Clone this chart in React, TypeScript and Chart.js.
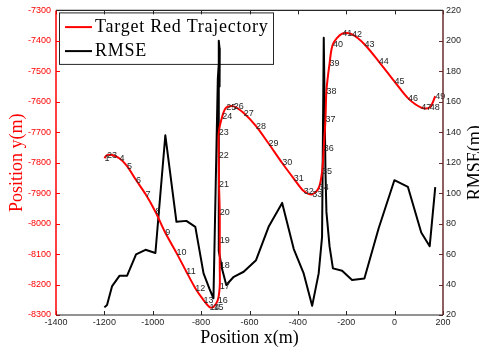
import { useEffect, useRef } from 'react';
import { Chart, registerables } from 'chart.js';

Chart.register(...registerables);

// Target trajectory: waypoint positions (m), waypoint n is labelled n
const trajX = [
  -1200, -1189, -1168, -1137, -1106, -1069, -1030, -989, -948, -902,
  -861, -824, -790, -765, -749, -731, -723, -723, -723, -723,
  -726, -727, -727, -713, -696, -665, -624, -573, -521, -465,
  -417, -376, -341, -314, -300, -293, -286, -282, -269, -255,
  -217, -176, -125, -66, -1, 55, 110, 145, 168,
];
const trajY = [
  -7785, -7775, -7775, -7786, -7811, -7857, -7903, -7961, -8030, -8096,
  -8158, -8212, -8251, -8274, -8274, -8251, -8205, -8139, -8056, -7965,
  -7870, -7775, -7702, -7649, -7619, -7615, -7637, -7680, -7737, -7801,
  -7852, -7893, -7904, -7883, -7830, -7753, -7658, -7565, -7475, -7411,
  -7376, -7379, -7411, -7467, -7533, -7588, -7619, -7619, -7582,
];
// RMSE (m) at each waypoint
const rmse = [
  25, 26.6, 39, 45.8, 45.8, 59.8, 62.8, 60.7, 138, 81.2,
  81.8, 77.9, 47.3, 37, 31, 175, 195, 185, 170, 175,
  195, 200, 62, 50, 39.7, 45.1, 48.4, 56, 77.9, 93.6,
  63.3, 47.3, 26, 47.3, 71.3, 202, 115, 87.7, 65, 50.6,
  49, 43, 44, 77, 108.5, 104.1, 74.2, 65.2, 104,
];
const pointLabels = trajX.map((_, i) => String(i + 1));

const xRange = { min: -1400, max: 200, step: 200 };
const yRange = { min: -8300, max: -7300, step: 100 };
const rmseRange = { min: 20, max: 220, step: 20 };

const legendItems = [
  { text: 'Target Red Trajectory', color: '#ff0000' },
  { text: 'RMSE', color: '#000000' },
];

const SANS = '"Liberation Sans", Arial, Helvetica, sans-serif';
const SERIF = '"Liberation Serif", "Times New Roman", serif';
const DARK = '#262626';
const RIGHT_AXIS = '#6b2b2b';

const framePlugin = {
  id: 'matlabFrame',
  beforeDatasetsDraw(chart: any) {
    // legend box sits under the data lines
    const { ctx, chartArea } = chart;
    const lx = chartArea.left + 3.5;
    const ly = chartArea.top + 2.5;
    ctx.save();
    ctx.fillStyle = '#ffffff';
    ctx.fillRect(lx, ly, 214, 51.5);
    ctx.lineWidth = 1;
    ctx.strokeStyle = DARK;
    ctx.strokeRect(lx, ly, 214, 51.5);
    ctx.font = `18px ${SERIF}`;
    ctx.textAlign = 'left';
    ctx.textBaseline = 'alphabetic';
    legendItems.forEach((item, i) => {
      const cy = ly + 14.2 + i * 24;
      ctx.strokeStyle = item.color;
      ctx.lineWidth = 2;
      ctx.beginPath();
      ctx.moveTo(lx + 5.5, cy);
      ctx.lineTo(lx + 32.5, cy);
      ctx.stroke();
      ctx.fillStyle = '#000000';
      (ctx as any).letterSpacing = '0.75px';
      ctx.fillText(item.text, lx + 35.5, cy + 5);
      (ctx as any).letterSpacing = '0px';
    });
    ctx.restore();
  },
  afterDatasetsDraw(chart: any) {
    const { ctx } = chart;
    const xs = chart.scales.x;
    const ys = chart.scales.y;
    ctx.save();
    ctx.font = `9px ${SANS}`;
    ctx.fillStyle = DARK;
    ctx.textAlign = 'left';
    ctx.textBaseline = 'middle';
    for (let i = 0; i < trajX.length; i++) {
      const px = xs.getPixelForValue(trajX[i]);
      const py = ys.getPixelForValue(trajY[i]);
      ctx.fillText(pointLabels[i], px, py);
    }
    ctx.restore();
  },
  afterDraw(chart: any) {
    const { ctx, chartArea } = chart;
    const { left, right, top, bottom } = chartArea;
    const xs = chart.scales.x;
    const ys = chart.scales.y;
    const y1 = chart.scales.y1;
    const tick = 4;
    ctx.save();

    // inward ticks
    ctx.lineWidth = 1;
    ctx.strokeStyle = DARK;
    ctx.beginPath();
    for (let v = xRange.min; v <= xRange.max; v += xRange.step) {
      const px = Math.round(xs.getPixelForValue(v)) + 0.5;
      ctx.moveTo(px, bottom);
      ctx.lineTo(px, bottom - tick);
      ctx.moveTo(px, top);
      ctx.lineTo(px, top + tick);
    }
    ctx.stroke();
    ctx.strokeStyle = '#ff0000';
    ctx.beginPath();
    for (let v = yRange.min; v <= yRange.max; v += yRange.step) {
      const py = Math.round(ys.getPixelForValue(v)) + 0.5;
      ctx.moveTo(left, py);
      ctx.lineTo(left + tick, py);
    }
    ctx.stroke();
    ctx.strokeStyle = RIGHT_AXIS;
    ctx.beginPath();
    for (let v = rmseRange.min; v <= rmseRange.max; v += rmseRange.step) {
      const py = Math.round(y1.getPixelForValue(v)) + 0.5;
      ctx.moveTo(right, py);
      ctx.lineTo(right - tick, py);
    }
    ctx.stroke();

    // box
    ctx.lineWidth = 1.2;
    ctx.strokeStyle = DARK;
    ctx.beginPath();
    ctx.moveTo(left, top);
    ctx.lineTo(right, top);
    ctx.moveTo(left, bottom);
    ctx.lineTo(right, bottom);
    ctx.stroke();
    ctx.lineWidth = 1.5;
    ctx.strokeStyle = '#ff0000';
    ctx.beginPath();
    ctx.moveTo(left, top);
    ctx.lineTo(left, bottom);
    ctx.stroke();
    ctx.strokeStyle = RIGHT_AXIS;
    ctx.beginPath();
    ctx.moveTo(right, top);
    ctx.lineTo(right, bottom);
    ctx.stroke();

    // axis titles
    const midY = (top + bottom) / 2;
    ctx.font = `18px ${SERIF}`;
    ctx.textBaseline = 'alphabetic';
    ctx.textAlign = 'center';
    ctx.fillStyle = '#000000';
    ctx.fillText('Position x(m)', (left + right) / 2, 343);
    ctx.save();
    ctx.translate(22, midY);
    ctx.rotate(-Math.PI / 2);
    ctx.fillStyle = '#ff0000';
    ctx.fillText('Position y(m)', 0, 0);
    ctx.restore();
    ctx.save();
    ctx.translate(480, midY);
    ctx.rotate(-Math.PI / 2);
    ctx.fillStyle = '#000000';
    ctx.fillText('RMSE(m)', 0, 0);
    ctx.restore();

    ctx.restore();
  },
};

export default function App() {
  const canvasRef = useRef<HTMLCanvasElement | null>(null);

  useEffect(() => {
    if (!canvasRef.current) return;
    const tickFont = { family: SANS, size: 9 };
    const noGrid = { display: false, drawTicks: false };
    const chart = new Chart(canvasRef.current, {
      type: 'line',
      data: {
        datasets: [
          {
            label: legendItems[0].text,
            data: trajX.map((x, i) => ({ x, y: trajY[i] })),
            borderColor: '#ff0000',
            borderWidth: 2,
            pointRadius: 0,
            tension: 0.3,
            fill: false,
            yAxisID: 'y',
            borderJoinStyle: 'round',
          },
          {
            label: legendItems[1].text,
            data: trajX.map((x, i) => ({ x, y: rmse[i] })),
            borderColor: '#000000',
            borderWidth: 2,
            pointRadius: 0,
            tension: 0,
            fill: false,
            yAxisID: 'y1',
            borderJoinStyle: 'round',
          },
        ],
      },
      options: {
        animation: false,
        responsive: false,
        devicePixelRatio: 1,
        layout: { padding: { top: 10, left: 0, right: 0, bottom: 0 } },
        plugins: { legend: { display: false }, tooltip: { enabled: false } },
        scales: {
          x: {
            type: 'linear',
            min: xRange.min,
            max: xRange.max,
            grid: noGrid,
            border: { display: false },
            ticks: {
              stepSize: xRange.step,
              color: DARK,
              font: tickFont,
              padding: 2,
              maxRotation: 0,
              autoSkip: false,
              callback: (v: any) => String(v),
            },
            afterFit: (s: any) => { s.height = 35; },
          },
          y: {
            type: 'linear',
            position: 'left',
            min: yRange.min,
            max: yRange.max,
            grid: noGrid,
            border: { display: false },
            ticks: {
              stepSize: yRange.step,
              color: '#ff0000',
              font: tickFont,
              padding: 5,
              autoSkip: false,
              callback: (v: any) => String(v),
            },
            afterFit: (s: any) => { s.width = 56; },
          },
          y1: {
            type: 'linear',
            position: 'right',
            min: rmseRange.min,
            max: rmseRange.max,
            grid: noGrid,
            border: { display: false },
            ticks: {
              stepSize: rmseRange.step,
              color: DARK,
              font: tickFont,
              padding: 3,
              autoSkip: false,
              callback: (v: any) => String(v),
            },
            afterFit: (s: any) => { s.width = 36; },
          },
        },
      },
      plugins: [framePlugin],
    } as any);
    return () => chart.destroy();
  }, []);

  return (
    <div style={{ position: 'fixed', left: 0, top: 0, width: 479, height: 350, background: '#ffffff' }}>
      <canvas ref={canvasRef} width={479} height={350} style={{ display: 'block' }} />
    </div>
  );
}
